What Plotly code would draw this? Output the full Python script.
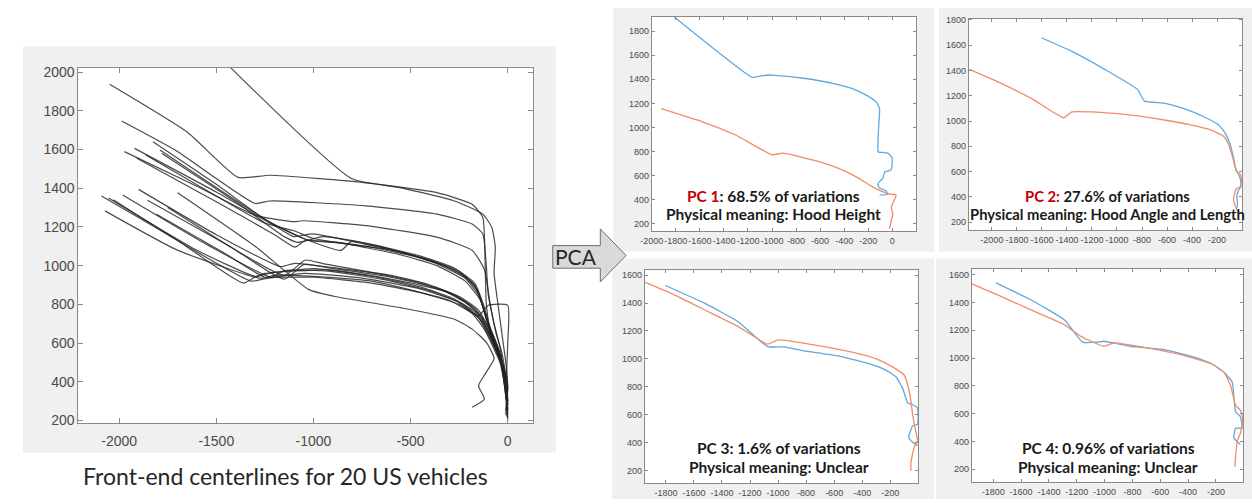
import plotly.graph_objects as go

W, H = 1252, 504

# ---------------- data: left panel, 20 vehicle centerlines (x, y) ----------------
veh_x = [
    [-1425, -804, -548, -274, -128, -82, -64, -70, -50, -30, -10, 0, -5],
    [-2049, -1650, -1388, -1224, -731, -365, -183, -128, -119, -115, -110, -90, -60, -20, 0, -10],
    [-1987, -1700, -1500, -1300, -1224, -731, -365, -183, -128, -110, -100, -70, -40, -20, 0],
    [-1973, -1600, -1300, -1096, -1059, -731, -365, -183, -120, -90, -60, -30, -10, 0],
    [-1921, -1500, -1187, -1100, -1005, -731, -548, -365, -219, -146, -100, -60, -30, -5, -10],
    [-1909, -1500, -1200, -1096, -1040, -877, -548, -365, -219, -140, -95, -50, -20, 0],
    [-1826, -1500, -1250, -1050, -858, -804, -548, -365, -219, -150, -110, -70, -30, -10, 0],
    [-1790, -1450, -1200, -1023, -900, -600, -400, -250, -160, -120, -80, -40, -15, 0],
    [-1863, -1500, -1250, -1100, -1000, -700, -450, -280, -170, -125, -85, -45, -20, -5],
    [-2091, -1700, -1361, -1297, -1250, -913, -548, -300, -200, -130, -80, -40, -15, 0],
    [-2073, -1700, -1279, -1215, -1000, -700, -450, -250, -150, -100, -60, -20, 0],
    [-2055, -1600, -1297, -1230, -1000, -700, -450, -280, -170, -110, -70, -30, -10, 0],
    [-1982, -1550, -1215, -1150, -913, -650, -400, -230, -140, -90, -50, -20, 0],
    [-1900, -1500, -1169, -1096, -900, -600, -400, -250, -150, -100, -60, -25, -5, 0],
    [-1854, -1450, -1150, -1041, -950, -700, -450, -280, -170, -110, -70, -35, -10, 0],
    [-1808, -1450, -1250, -1200, -1000, -700, -500, -300, -180, -120, -80, -40, -15, 0],
    [-1699, -1300, -1023, -895, -548, -274, -183, -110, -70, -110, -150, -120, -183],
    [-1750, -1400, -1150, -1050, -900, -600, -350, -220, -140, -95, -55, -20, 0, -5],
    [-1780, -1400, -1150, -1080, -950, -700, -450, -280, -170, -125, -90, -50, -15, 0],
    [-2030, -1650, -1320, -1260, -1050, -750, -450, -260, -150, -100, 0, 0, -5, 0],
]
veh_y = [
    [2022, 1450, 1402, 1334, 1266, 1198, 1096, 960, 800, 650, 500, 380, 250],
    [1937, 1690, 1456, 1467, 1428, 1377, 1317, 1249, 1130, 960, 800, 650, 560, 480, 380, 250],
    [1747, 1590, 1450, 1321, 1334, 1309, 1266, 1215, 1164, 1000, 850, 700, 580, 450, 300],
    [1589, 1410, 1260, 1227, 1232, 1207, 1147, 1079, 980, 800, 650, 550, 420, 280],
    [1606, 1380, 1198, 1150, 1164, 1110, 1070, 1010, 935, 842, 700, 600, 500, 330, 230],
    [1555, 1330, 1160, 1096, 1130, 1120, 1055, 1000, 920, 820, 680, 560, 420, 260],
    [1640, 1420, 1240, 1140, 1079, 1125, 1070, 1015, 945, 860, 720, 600, 480, 320, 210],
    [1597, 1370, 1210, 1130, 1120, 1080, 1030, 970, 880, 760, 640, 540, 400, 290],
    [1572, 1360, 1220, 1180, 1140, 1095, 1040, 980, 900, 780, 660, 560, 440, 300],
    [1360, 1130, 910, 944, 960, 978, 920, 860, 800, 720, 620, 520, 380, 250],
    [1283, 1080, 935, 940, 940, 910, 860, 800, 730, 640, 560, 450, 300],
    [1350, 1080, 944, 960, 985, 945, 890, 830, 760, 680, 600, 500, 350, 230],
    [1365, 1110, 940, 975, 970, 930, 870, 800, 720, 630, 550, 430, 280],
    [1394, 1160, 995, 1012, 990, 950, 900, 840, 770, 680, 580, 470, 330, 200],
    [1338, 1110, 950, 1029, 1010, 965, 910, 850, 780, 700, 610, 510, 380, 260],
    [1266, 1060, 940, 950, 945, 920, 875, 820, 750, 670, 590, 500, 370, 240],
    [1377, 1100, 876, 842, 782, 723, 672, 604, 520, 450, 380, 310, 268],
    [1300, 1080, 930, 1005, 985, 940, 880, 810, 740, 650, 560, 460, 320, 220],
    [1580, 1330, 1150, 1120, 1150, 1110, 1050, 990, 910, 800, 680, 580, 450, 300],
    [1340, 1100, 920, 930, 960, 935, 880, 815, 740, 795, 795, 600, 450, 250],
]

# ---------------- data: principal components (blue / orange shapes) ----------------
pc1_blue_x = [-1813, -1165, -1110, -1028, -972, -752, -477, -311, -201, -132, -105, -110, -118, -118, -113, -36, -3, 0, -8, -36, -63, -77, -118, -110, -50, -41, -105]
pc1_blue_y = [1918, 1416, 1425, 1436, 1433, 1411, 1362, 1315, 1260, 1211, 1156, 1047, 910, 800, 795, 786, 751, 718, 649, 636, 630, 581, 532, 499, 471, 444, 438]
pc1_orng_x = [-1923, -1579, -1303, -1000, -917, -862, -614, -421, -284, -174, -91, -8, 33, 14, -8, 5, -8, -22]
pc1_orng_y = [1156, 1047, 937, 773, 786, 778, 718, 649, 581, 512, 471, 444, 438, 389, 334, 279, 225, 156]

pc2_blue_x = [-1604, -1361, -1098, -834, -781, -623, -464, -306, -187, -135, -95, -69, -47, -29, -11, -11, -29, -42, -37, -42]
pc2_blue_y = [1658, 1550, 1408, 1248, 1157, 1142, 1098, 1034, 969, 905, 814, 711, 608, 582, 530, 479, 453, 401, 350, 311]
pc2_orng_x = [-2179, -1942, -1678, -1427, -1361, -1203, -887, -623, -412, -253, -148, -108, -82, -55, -37, -16, -3, -16, -47, -69, -47, -29]
pc2_orng_y = [1408, 1305, 1175, 1026, 1072, 1072, 1046, 1008, 969, 930, 879, 814, 737, 634, 595, 582, 530, 479, 466, 376, 311, 272]

pc3_blue_x = [-1805, -1522, -1287, -1075, -958, -816, -581, -346, -228, -158, -111, -75, -40, -5, -5, -40, -68, -40, -5]
pc3_blue_y = [1525, 1397, 1268, 1088, 1086, 1058, 1023, 964, 918, 871, 789, 684, 672, 649, 532, 521, 439, 404, 380]
pc3_orng_x = [-1951, -1758, -1522, -1287, -1075, -1005, -911, -699, -464, -299, -181, -99, -75, -52, -40, -28, -16, -5, -28, -40, -52, -52]
pc3_orng_y = [1549, 1467, 1350, 1233, 1105, 1135, 1128, 1093, 1046, 1000, 941, 883, 813, 696, 602, 532, 474, 415, 369, 322, 252, 200]

pc4_blue_x = [-1780, -1525, -1288, -1158, -1052, -1005, -816, -579, -343, -225, -142, -83, -59, -24, -12, -59, -71, -24]
pc4_blue_y = [1541, 1416, 1274, 1114, 1114, 1121, 1085, 1062, 1003, 955, 897, 826, 613, 578, 495, 495, 424, 377]
pc4_orng_x = [-1955, -1761, -1525, -1288, -1170, -1099, -1005, -934, -697, -461, -225, -142, -95, -59, -24, -7, -24, -47, -59, -64]
pc4_orng_y = [1534, 1451, 1345, 1239, 1156, 1121, 1085, 1109, 1074, 1026, 955, 897, 802, 660, 625, 566, 460, 401, 283, 217]

pc_lines1 = ["PC 1", ": 68.5% of variations", "Physical meaning: Hood Height"]
pc_lines2 = ["PC 2:", " 27.6% of variations", "Physical meaning: Hood Angle and Length"]
pc_lines3 = ["", "PC 3: 1.6% of variations", "Physical meaning: Unclear"]
pc_lines4 = ["", "PC 4: 0.96% of variations", "Physical meaning: Unclear"]

left_xticks = [-2000, -1500, -1000, -500, 0]
left_yticks = [200, 400, 600, 800, 1000, 1200, 1400, 1600, 1800, 2000]
pc12_xticks = [-2000, -1800, -1600, -1400, -1200, -1000, -800, -600, -400, -200, 0]
pc2_xticks = [-2000, -1800, -1600, -1400, -1200, -1000, -800, -600, -400, -200]
pc34_xticks = [-1800, -1600, -1400, -1200, -1000, -800, -600, -400, -200]
pc12_yticks = [200, 400, 600, 800, 1000, 1200, 1400, 1600, 1800]
pc34_yticks = [200, 400, 600, 800, 1000, 1200, 1400, 1600]

caption = "Front-end centerlines for 20 US vehicles"
arrow_text = "PCA"

# ---------------- styling helpers ----------------
def px(x, y):
    return x / W, 1 - y / H

BLUE = "#5fa8e0"
ORNG = "#f28c66"
LINE = "rgba(35,35,35,0.82)"

fig = go.Figure()

for xs, ys in zip(veh_x, veh_y):
    fig.add_trace(go.Scatter(x=xs, y=ys, mode="lines",
                             line=dict(color=LINE, width=1.2, shape="spline", smoothing=0.5),
                             xaxis="x", yaxis="y", hoverinfo="skip"))

pcs = [
    ("x2", "y2", pc1_blue_x, pc1_blue_y, pc1_orng_x, pc1_orng_y),
    ("x3", "y3", pc2_blue_x, pc2_blue_y, pc2_orng_x, pc2_orng_y),
    ("x4", "y4", pc3_blue_x, pc3_blue_y, pc3_orng_x, pc3_orng_y),
    ("x5", "y5", pc4_blue_x, pc4_blue_y, pc4_orng_x, pc4_orng_y),
]
for xa, ya, bx, by, ox, oy in pcs:
    fig.add_trace(go.Scatter(x=bx, y=by, mode="lines",
                             line=dict(color=BLUE, width=1.3, shape="spline", smoothing=0.4),
                             xaxis=xa, yaxis=ya, hoverinfo="skip"))
    fig.add_trace(go.Scatter(x=ox, y=oy, mode="lines",
                             line=dict(color=ORNG, width=1.3, shape="spline", smoothing=0.4),
                             xaxis=xa, yaxis=ya, hoverinfo="skip"))

boxes = {
    "1": (67, 526, 65, 427),
    "2": (646, 913, 13, 231),
    "3": (966, 1242, 15, 230),
    "4": (639, 915, 271, 488),
    "5": (969, 1243, 270, 487),
}
ranges = {
    "1": ([-2210, 130], [185, 2022]),
    "2": ([-2000, 200], [140, 1920]),
    "3": ([-2185, 0], [140, 1808]),
    "4": ([-1950, 0], [110, 1635]),
    "5": ([-1955, -5], [105, 1640]),
}
ticks = {
    "1": (left_xticks, left_yticks),
    "2": (pc12_xticks, pc12_yticks),
    "3": (pc2_xticks, pc12_yticks),
    "4": (pc34_xticks, pc34_yticks),
    "5": (pc34_xticks, pc34_yticks),
}

layout = dict(
    width=W, height=H, margin=dict(l=0, r=0, t=0, b=0),
    paper_bgcolor="white", plot_bgcolor="rgba(0,0,0,0)", showlegend=False,
)
shapes = []
for (x0, x1, y0, y1) in [(11, 549, 43, 457), (607, 931, 4, 252), (936, 1252, 4, 252),
                         (606, 931, 259, 504), (933, 1252, 259, 504)]:
    a0, b1 = px(x0, y0)
    a1, b0 = px(x1, y1)
    shapes.append(dict(type="rect", xref="paper", yref="paper", x0=a0, x1=a1, y0=b0, y1=b1,
                       fillcolor="#f0f0f0", line=dict(width=0), layer="below"))

for k, (l, r, t, b) in boxes.items():
    xd = [l / W, r / W]
    yd = [1 - b / H, 1 - t / H]
    a0, b1 = px(l, t)
    a1, b0 = px(r, b)
    shapes.append(dict(type="rect", xref="paper", yref="paper", x0=a0, x1=a1, y0=b0, y1=b1,
                       fillcolor="white", line=dict(width=0), layer="below"))
    big = k == "1"
    tf = dict(family="Liberation Sans, Arial", size=14 if big else 9, color="#4a4a4a")
    xn = "xaxis" if k == "1" else f"xaxis{k}"
    yn = "yaxis" if k == "1" else f"yaxis{k}"
    anchor_x = "x" if k == "1" else f"x{k}"
    anchor_y = "y" if k == "1" else f"y{k}"
    common = dict(showgrid=False, zeroline=False, showline=True, linecolor="#8a8a8a", linewidth=1,
                  mirror="allticks", ticks="inside", ticklen=5 if big else 3, tickcolor="#8a8a8a",
                  tickfont=tf, fixedrange=True, tickangle=0)
    layout[xn] = dict(domain=xd, anchor=anchor_y, range=ranges[k][0], tickmode="array",
                      tickvals=ticks[k][0], ticktext=[str(v) for v in ticks[k][0]],
                      ticklabelstandoff=5 if big else 1, **common)
    layout[yn] = dict(domain=yd, anchor=anchor_x, range=ranges[k][1], tickmode="array",
                      tickvals=ticks[k][1], ticktext=[str(v) for v in ticks[k][1]], **common)

pts = [(546, 246), (594, 246), (594, 229), (620, 256), (594, 283), (594, 269), (546, 269)]
path = "M " + " L ".join(f"{px(x, y)[0]:.5f},{px(x, y)[1]:.5f}" for x, y in pts) + " Z"
shapes.append(dict(type="path", xref="paper", yref="paper", path=path, fillcolor="#d9d9d9",
                   line=dict(color="#6e6e6e", width=1), layer="above"))
layout["shapes"] = shapes

ann = []
def txt(x, y, s, size, color="#222222", bold=False):
    a, b = px(x, y)
    ann.append(dict(xref="paper", yref="paper", x=a, y=b, text=s, showarrow=False,
                    xanchor="center", yanchor="middle",
                    font=dict(family="Lato, Open Sans", size=size, color=color,
                              weight="bold" if bold else "normal")))

txt(276, 481, caption, 23, color="#262626")
txt(569, 257, arrow_text, 21, color="#262626")

pc_text = [
    (pc_lines1, 769, 195, 214, 15.5),
    (pc_lines2, 1106, 195, 214, 14.8),
    (pc_lines3, 774, 452, 471, 15.5),
    (pc_lines4, 1107, 452, 471, 15.5),
]
for lines, cx, y1, y2, fs in pc_text:
    red, rest, second = lines
    first = (f"<span style='color:#c00000'>{red}</span>" if red else "") + rest
    txt(cx, y1, first, fs, color="#1a1a1a", bold=True)
    txt(cx, y2, second, fs, color="#1a1a1a", bold=True)
layout["annotations"] = ann

fig.update_layout(**layout)
fig.write_html("out.html")
